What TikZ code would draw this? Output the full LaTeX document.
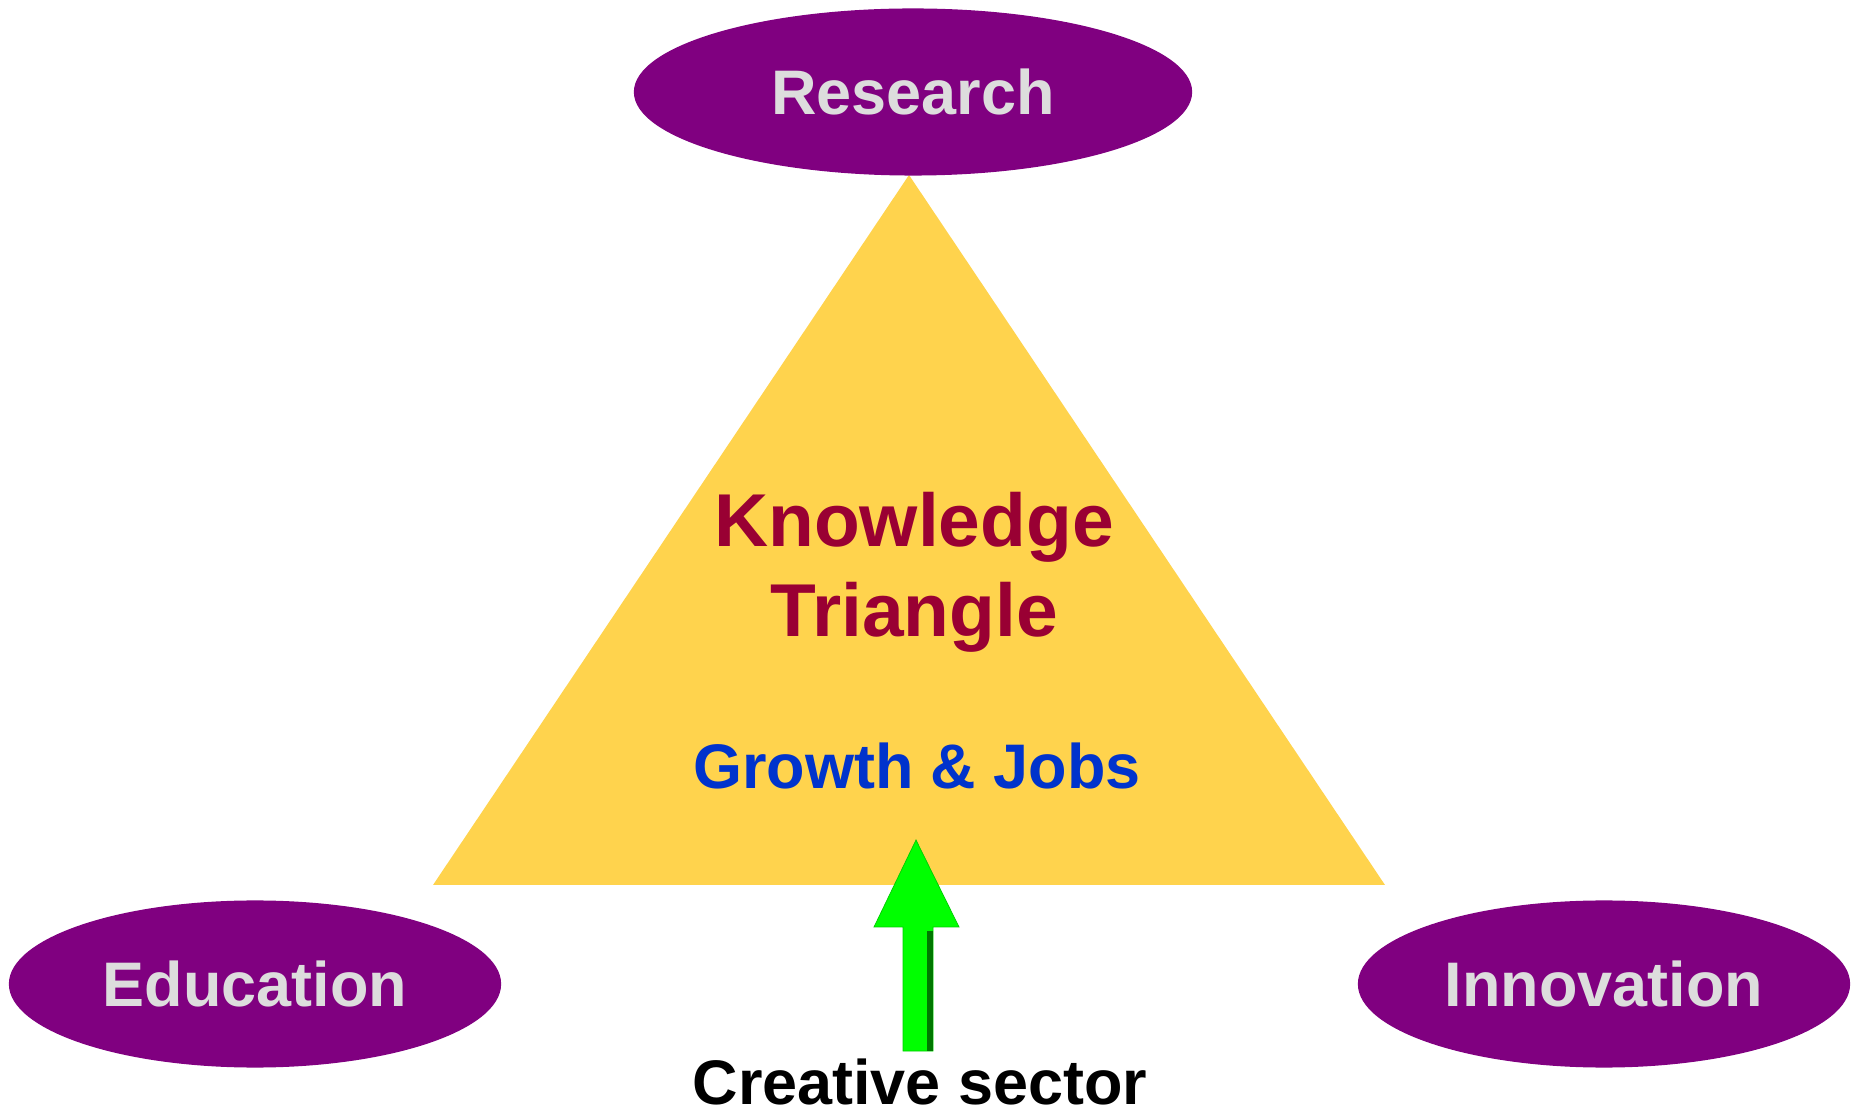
\documentclass[tikz,border=0pt]{standalone}
\usepackage{fontspec}
\setmainfont{Liberation Sans}
\usetikzlibrary{shapes.geometric}

\definecolor{kpurple}{RGB}{128,0,128}
\definecolor{kgrey}{RGB}{221,221,221}
\definecolor{kyellow}{RGB}{255,211,77}
\definecolor{kred}{RGB}{153,0,51}
\definecolor{kblue}{RGB}{0,51,204}
\definecolor{kgreen}{RGB}{0,255,0}
\definecolor{kdkgreen}{RGB}{0,120,0}

\begin{document}
\begin{tikzpicture}[x=0.01cm,y=-0.01cm]
\useasboundingbox (0,0) rectangle (1851,1116);
\begin{scope}[font=\fontsize{17.9pt}{21pt}\selectfont\bfseries,
  pillar/.style={ellipse, fill=kpurple, text=kgrey, inner sep=0pt,
                 minimum height=1.67cm}]

% Triangle:
\coordinate (top)   at (909,175);
\coordinate (left)  at (433,885);
\coordinate (right) at (1385,885);
\path [draw=none, fill=kyellow] (top) -- (left) -- (right) -- cycle;

% Corners
\node [pillar, minimum width=5.58cm] (research)   at (913,92)  {Research};
\node [pillar, minimum width=4.92cm] (education)  at (255,984) {Education};
\node [pillar, minimum width=4.92cm] (innovation) at (1604,984) {Innovation};

% Texts
\node [anchor=base, kred, align=center,
       font=\fontsize{21.3pt}{25.6pt}\selectfont\bfseries] (knowledge) at (914,637)
      {Knowledge\\Triangle};
\node [anchor=base, kblue] (growth) at (917,789) {Growth \& Jobs};
\node [anchor=base, black, inner sep=0pt] (creative) at (920,1104) {Creative sector};

% Arrow
\path [draw=green!80!black, fill=kgreen, line join=miter, very thin]
 (903,1051) -- (903,927) -- (874,927) -- (916,840) -- (959,927)
 -- (933,927) -- (933,1051) -- cycle;
\path [draw=none, fill=kdkgreen] (927,931) rectangle (933,1051);

\end{scope}
\end{tikzpicture}
\end{document}
